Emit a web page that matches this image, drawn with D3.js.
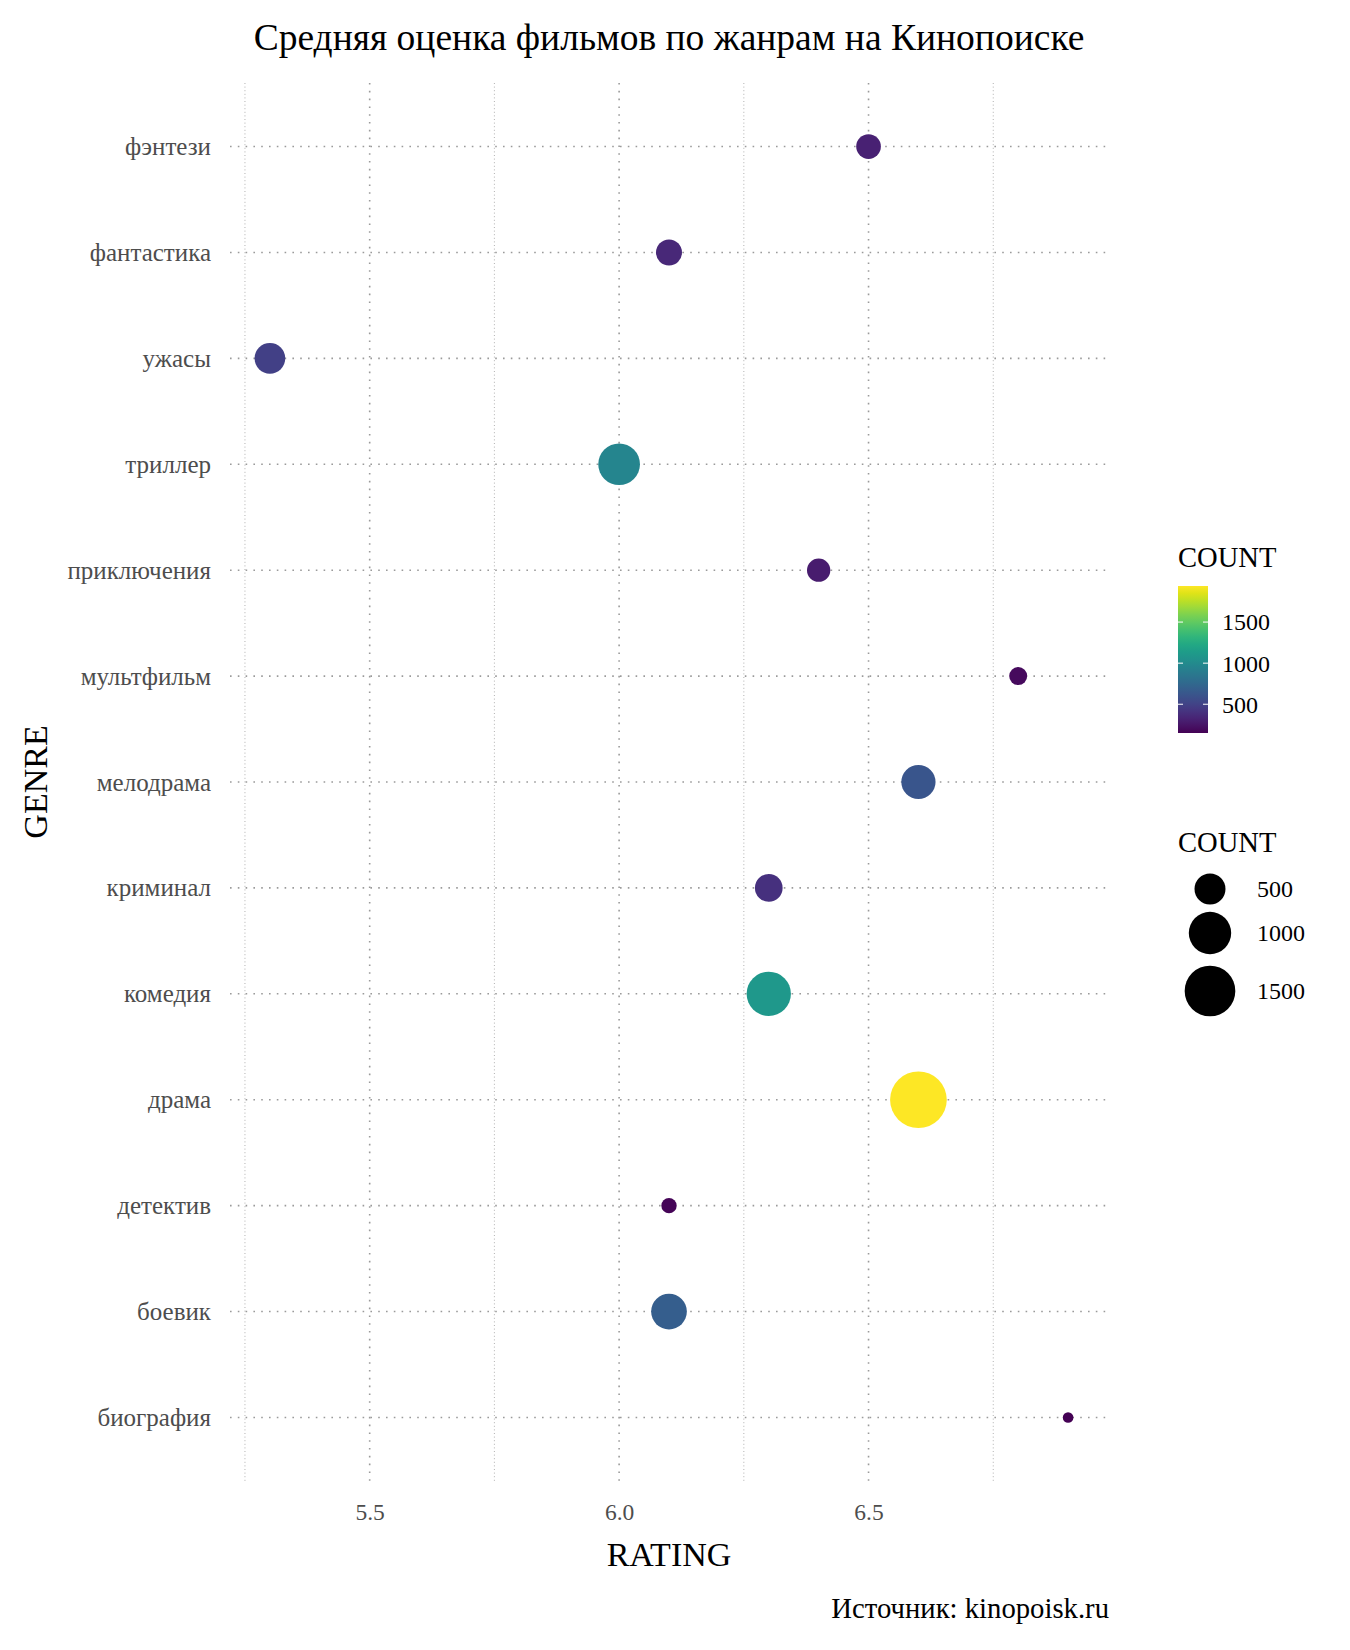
<!DOCTYPE html>
<html>
<head>
<meta charset="utf-8">
<script src="https://cdn.jsdelivr.net/npm/d3@7"></script>
<style>
  html, body { margin: 0; padding: 0; background: #fff; }
  svg { display: block; }
  text { font-family: "Liberation Serif", "DejaVu Serif", serif; }
</style>
</head>
<body>
<svg id="chart" width="1350" height="1650"></svg>
<script>
// ---- data ----
const genres = ["фэнтези", "фантастика", "ужасы", "триллер", "приключения", "мультфильм",
                "мелодрама", "криминал", "комедия", "драма", "детектив", "боевик", "биография"];
const ratings = [6.5, 6.1, 5.3, 6.0, 6.4, 6.8, 6.6, 6.3, 6.3, 6.6, 6.1, 6.1, 6.9];
const counts  = [317, 350, 490, 964, 286, 196, 620, 396, 1106, 1939, 169, 680, 150];
const xTicks = [5.5, 6.0, 6.5];
const xMinorTicks = [5.25, 5.75, 6.25, 6.75];
const legendTicks = [500, 1000, 1500];
const titleText = "Средняя оценка фильмов по жанрам на Кинопоиске";
const xTitle = "RATING";
const yTitle = "GENRE";
const legendTitle = "COUNT";
const captionText = "Источник: kinopoisk.ru";

const data = genres.map((g, i) => ({ genre: g, rating: ratings[i], count: counts[i] }));

// ---- layout ----
const panel = { left: 230, right: 1108, top: 83, bottom: 1481 };
const svg = d3.select("#chart");

const rMin = d3.min(ratings), rMax = d3.max(ratings);
const rPad = (rMax - rMin) * 0.05;
const x = d3.scaleLinear().domain([rMin - rPad, rMax + rPad]).range([panel.left, panel.right]);
const y = d3.scalePoint().domain(genres).range([panel.top, panel.bottom]).padding(0.6);

const cMin = d3.min(counts), cMax = d3.max(counts);
const color = d3.scaleSequential(d3.interpolateViridis).domain([cMin, cMax]);
const norm = d3.scaleLinear().domain([cMin, cMax]).range([0, 1]);
const rLin = d3.scaleLinear().domain([0, 1]).range([5.3, 28.35]);
const radius = c => rLin(Math.sqrt(Math.max(0, norm(c))));

// ---- grid ----
const grid = svg.append("g");
grid.selectAll("line.minor").data(xMinorTicks).join("line")
  .attr("x1", d => x(d)).attr("x2", d => x(d))
  .attr("y1", panel.top).attr("y2", panel.bottom)
  .attr("stroke", "#a8a8a8").attr("stroke-width", 0.9).attr("stroke-dasharray", "1 2.6");
grid.selectAll("line.majorx").data(xTicks).join("line")
  .attr("x1", d => x(d)).attr("x2", d => x(d))
  .attr("y1", panel.top).attr("y2", panel.bottom)
  .attr("stroke", "#9a9a9a").attr("stroke-width", 1.6).attr("stroke-dasharray", "1.6 6.2");
grid.selectAll("line.majory").data(genres).join("line")
  .attr("x1", panel.left).attr("x2", panel.right)
  .attr("y1", d => y(d)).attr("y2", d => y(d))
  .attr("stroke", "#9a9a9a").attr("stroke-width", 1.6).attr("stroke-dasharray", "1.6 6.2");

// ---- axes ----
const xAxis = d3.axisBottom(x).tickValues(xTicks).tickFormat(d3.format(".1f")).tickSize(0).tickPadding(0);
const gx = svg.append("g").attr("transform", `translate(0,${panel.bottom})`).call(xAxis);
gx.select(".domain").remove();
gx.selectAll("text").attr("font-size", 23.5).attr("fill", "#4d4d4d")
  .attr("font-family", "Liberation Serif").attr("dy", null).attr("y", 39);

const yAxis = d3.axisLeft(y).tickSize(0).tickPadding(0);
const gy = svg.append("g").attr("transform", `translate(${panel.left - 19},0)`).call(yAxis);
gy.select(".domain").remove();
gy.selectAll("text").attr("font-size", 25).attr("fill", "#4d4d4d")
  .attr("font-family", "Liberation Serif").attr("dy", "0.32em");

// ---- points ----
svg.append("g").selectAll("circle").data(data).join("circle")
  .attr("cx", d => x(d.rating)).attr("cy", d => y(d.genre))
  .attr("r", d => radius(d.count)).attr("fill", d => color(d.count));

// ---- titles ----
svg.append("text").attr("x", 669).attr("y", 50).attr("text-anchor", "middle")
  .attr("font-size", 37.5).attr("fill", "#000").text(titleText);
svg.append("text").attr("x", (panel.left + panel.right) / 2).attr("y", 1566).attr("text-anchor", "middle")
  .attr("font-size", 34).attr("fill", "#000").text(xTitle);
svg.append("text").attr("transform", `translate(47,${(panel.top + panel.bottom) / 2}) rotate(-90)`)
  .attr("text-anchor", "middle").attr("font-size", 34).attr("fill", "#000").text(yTitle);
svg.append("text").attr("x", 1109).attr("y", 1618).attr("text-anchor", "end")
  .attr("font-size", 28.7).attr("fill", "#000").text(captionText);

// ---- colour legend ----
const cb = { x: 1178, w: 30, top: 586, bottom: 733 };
const defs = svg.append("defs");
const grad = defs.append("linearGradient").attr("id", "vgrad")
  .attr("x1", "0%").attr("x2", "0%").attr("y1", "100%").attr("y2", "0%");
d3.range(0, 1.0001, 0.05).forEach(t => {
  grad.append("stop").attr("offset", `${t * 100}%`).attr("stop-color", d3.interpolateViridis(t));
});
svg.append("text").attr("x", 1178).attr("y", 567).attr("font-size", 28.6).attr("fill", "#000").text(legendTitle);
svg.append("rect").attr("x", cb.x).attr("y", cb.top).attr("width", cb.w).attr("height", cb.bottom - cb.top)
  .attr("fill", "url(#vgrad)");
const cbY = d3.scaleLinear().domain([cMin, cMax]).range([cb.bottom, cb.top]);
const cbTicks = svg.append("g");
legendTicks.forEach(v => {
  cbTicks.append("line").attr("x1", cb.x).attr("x2", cb.x + 5).attr("y1", cbY(v)).attr("y2", cbY(v))
    .attr("stroke", "#fff").attr("stroke-width", 1);
  cbTicks.append("line").attr("x1", cb.x + cb.w - 5).attr("x2", cb.x + cb.w).attr("y1", cbY(v)).attr("y2", cbY(v))
    .attr("stroke", "#fff").attr("stroke-width", 1);
  cbTicks.append("text").attr("x", 1222).attr("y", cbY(v)).attr("dy", "0.35em")
    .attr("font-size", 24).attr("fill", "#000").text(v);
});

// ---- size legend ----
svg.append("text").attr("x", 1178).attr("y", 852).attr("font-size", 28.6).attr("fill", "#000").text(legendTitle);
const sizeKeyY = [889, 933, 991];
legendTicks.forEach((v, i) => {
  svg.append("circle").attr("cx", 1210).attr("cy", sizeKeyY[i]).attr("r", radius(v)).attr("fill", "#000");
  svg.append("text").attr("x", 1257).attr("y", sizeKeyY[i]).attr("dy", "0.35em")
    .attr("font-size", 24).attr("fill", "#000").text(v);
});
</script>
</body>
</html>
